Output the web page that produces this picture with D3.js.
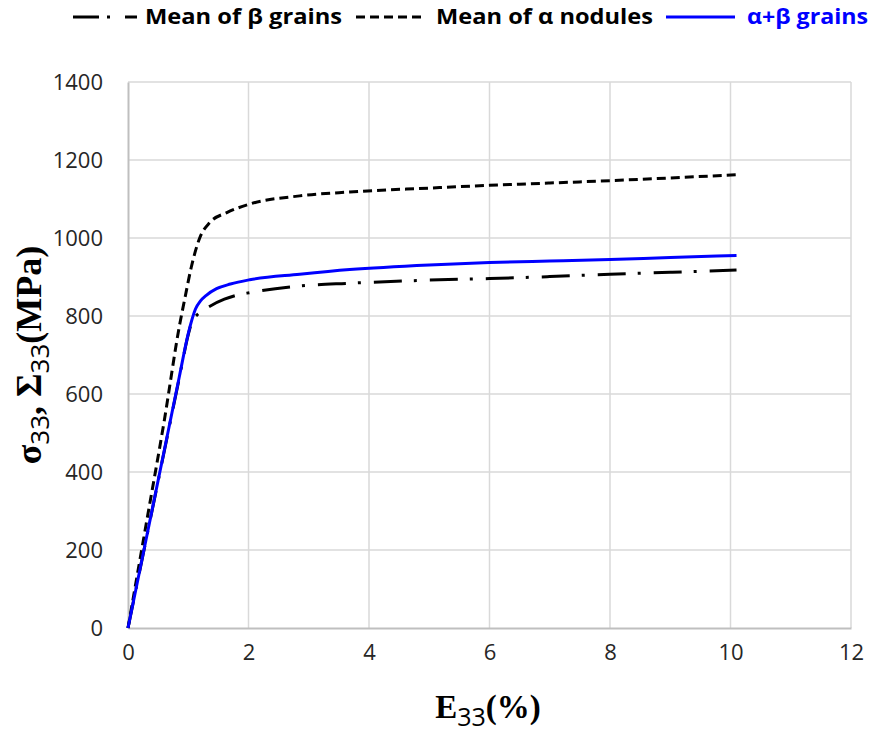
<!DOCTYPE html>
<html>
<head>
<meta charset="utf-8">
<script src="https://cdn.jsdelivr.net/npm/d3@7"></script>
<style>
  html, body { margin: 0; padding: 0; background: #fff; }
  svg { display: block; }
</style>
</head>
<body>
<svg id="chart" width="872" height="735"></svg>
<script>
// ---- data ----
const xTicks = [0, 2, 4, 6, 8, 10, 12];
const yTicks = [0, 200, 400, 600, 800, 1000, 1200, 1400];

const seriesNames = ["Mean of β grains", "Mean of α nodules", "α+β grains"];

const betaStrain  = [0, 0.3, 0.6, 0.85, 1.0, 1.05, 1.1, 1.17, 1.36, 1.6, 1.8, 2.02, 2.85, 3.68, 5, 6, 7, 8, 9, 10.1];
const betaStress  = [0, 226, 452, 640, 752, 780, 795, 806, 825, 843, 853, 860, 877, 884, 892, 896, 901, 907, 912, 918];

const alphaStrain = [0, 0.3, 0.6, 0.86, 0.95, 1.05, 1.19, 1.36, 1.64, 2.02, 2.85, 3.68, 5, 6, 7, 8, 9, 10.1];
const alphaStress = [0, 265, 530, 780, 850, 925, 1000, 1040, 1065, 1087, 1108, 1118, 1128, 1135, 1141, 1147, 1154, 1162];

const abStrain    = [0, 0.3, 0.6, 0.85, 1.0, 1.06, 1.12, 1.2, 1.3, 1.47, 1.7, 2.02, 2.85, 3.68, 5, 6, 7, 8, 9, 10.1];
const abStress    = [0, 227, 454, 643, 755, 790, 818, 838, 853, 870, 882, 893, 907, 919, 931, 937, 941, 945, 950, 955];

// ---- layout ----
const svg = d3.select("#chart");
const margin = {left: 128, right: 21, top: 82, bottom: 107};
const W = 872, H = 735;
const x = d3.scaleLinear().domain([0, 12]).range([margin.left, W - margin.right]);
const y = d3.scaleLinear().domain([0, 1400]).range([H - margin.bottom, margin.top]);

const gridColor = "#d9d9d9";
const axisColor = "#bfbfbf";
const tickFont = "'Open Sans', Lato, sans-serif";

// gridlines
svg.append("g").selectAll("line.v").data(xTicks.filter(d => d > 0)).join("line")
  .attr("x1", d => x(d)).attr("x2", d => x(d))
  .attr("y1", y(0)).attr("y2", y(1400))
  .attr("stroke", gridColor).attr("stroke-width", 1.5);
svg.append("g").selectAll("line.h").data(yTicks.filter(d => d > 0)).join("line")
  .attr("x1", x(0)).attr("x2", x(12))
  .attr("y1", d => y(d)).attr("y2", d => y(d))
  .attr("stroke", gridColor).attr("stroke-width", 1.5);

// axes
const xAxis = svg.append("g").attr("transform", `translate(0,${y(0)})`)
  .call(d3.axisBottom(x).tickValues(xTicks).tickSize(0).tickPadding(20).tickFormat(d3.format("d")));
const yAxis = svg.append("g").attr("transform", `translate(${x(0)},0)`)
  .call(d3.axisLeft(y).tickValues(yTicks).tickSize(0).tickPadding(25).tickFormat(d3.format("d")));
[xAxis, yAxis].forEach(g => {
  g.select(".domain").attr("stroke", axisColor).attr("stroke-width", 2);
  g.selectAll("text").attr("font-family", tickFont).attr("font-size", 22).attr("fill", "#262626");
});
xAxis.selectAll("text").attr("dy", "0.55em");

// lines
const line = d3.line().x(d => x(d[0])).y(d => y(d[1])).curve(d3.curveMonotoneX);
const zip = (a, b) => a.map((v, i) => [v, b[i]]);

const series = [
  {name: seriesNames[0], data: zip(betaStrain, betaStress), color: "#000", dash: "28,12,3,13"},
  {name: seriesNames[1], data: zip(alphaStrain, alphaStress), color: "#000", dash: "9,5"},
  {name: seriesNames[2], data: zip(abStrain, abStress), color: "#0000ff", dash: null}
];

svg.append("g").selectAll("path").data(series).join("path")
  .attr("d", d => line(d.data))
  .attr("fill", "none")
  .attr("stroke", d => d.color)
  .attr("stroke-width", 3)
  .attr("stroke-dasharray", d => d.dash);

// legend
const legendFont = "'Open Sans', Lato, sans-serif";
const legendItems = [
  {s: series[0], x1: 73, x2: 140, tx: 145, tw: 197, dash: "26,8,3,15,12", txtColor: "#000"},
  {s: series[1], x1: 356, x2: 422, tx: 436, tw: 217, dash: "9,5", txtColor: "#000"},
  {s: series[2], x1: 666, x2: 735, tx: 747, tw: 121, dash: null, txtColor: "#0000ff"}
];
const leg = svg.append("g");
legendItems.forEach(it => {
  leg.append("line").attr("x1", it.x1).attr("x2", it.x2).attr("y1", 17).attr("y2", 17)
    .attr("stroke", it.s.color).attr("stroke-width", 3).attr("stroke-dasharray", it.dash);
  leg.append("text").attr("x", it.tx).attr("y", 24)
    .attr("font-family", legendFont).attr("font-weight", "bold").attr("font-size", 22)
    .attr("textLength", it.tw).attr("lengthAdjust", "spacingAndGlyphs")
    .attr("fill", it.txtColor).text(it.s.name);
});

// axis titles
const serif = "'Liberation Serif', 'DejaVu Serif', serif";
const xt = svg.append("text").attr("x", 488).attr("y", 718).attr("text-anchor", "middle")
  .attr("font-family", serif).attr("font-weight", "bold").attr("font-size", 33).attr("fill", "#000");
xt.append("tspan").text("E");
xt.append("tspan").attr("font-family", tickFont).attr("font-weight", "normal").attr("font-size", 25).attr("dy", 8).text("33");
xt.append("tspan").attr("dy", -8).text("(%)");

const yt = svg.append("text").attr("transform", "translate(41,355) rotate(-90)").attr("text-anchor", "middle")
  .attr("font-family", serif).attr("font-weight", "bold").attr("font-size", 36).attr("fill", "#000");
yt.append("tspan").text("σ");
yt.append("tspan").attr("font-family", tickFont).attr("font-weight", "normal").attr("font-size", 26).attr("dy", 8).text("33");
yt.append("tspan").attr("dy", -8).text(", Σ");
yt.append("tspan").attr("font-family", tickFont).attr("font-weight", "normal").attr("font-size", 26).attr("dy", 8).text("33");
yt.append("tspan").attr("dy", -8).text("(MPa)");
</script>
</body>
</html>
